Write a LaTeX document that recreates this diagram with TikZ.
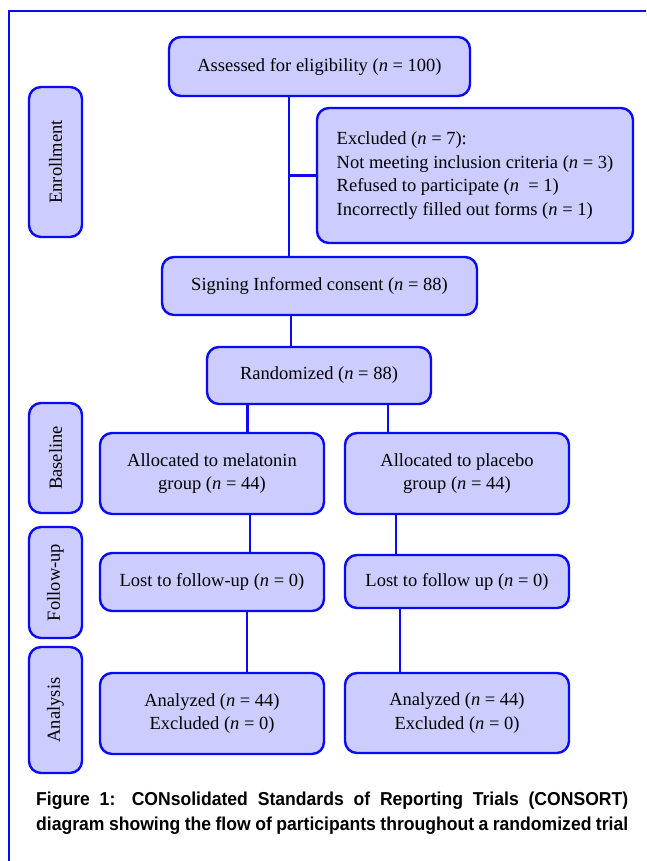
\documentclass[tikz,border=0pt]{standalone}
\usepackage{fontspec}
\setmainfont{Liberation Serif}
\newfontfamily\capfont[FakeStretch=0.94]{Liberation Sans}
\definecolor{lineblue}{RGB}{10,10,245}
\definecolor{boxfill}{RGB}{204,204,255}
\begin{document}
\begin{tikzpicture}[x=1pt,y=-1pt,
  box/.style={draw=lineblue, fill=boxfill, line width=2.4pt, rounded corners=12pt,
    inner sep=0pt, align=center, font=\fontsize{18.5}{23.7}\selectfont},
  sidebox/.style={box, rotate=90, minimum height=53pt},
  conn/.style={draw=lineblue, line width=2.4pt},
  frame/.style={draw=lineblue, line width=2pt}]
\useasboundingbox (0,0) rectangle (646,861);

% frame
\coordinate (f1) at (8,11);
\coordinate (f2) at (646,11);
\coordinate (f3) at (9,11);
\coordinate (f4) at (9,861);
\draw[frame] (f1) -- (f2);
\draw[frame] (f3) -- (f4);

% side boxes
\node[sidebox, minimum width=150pt] (enr) at (55.5,162) {Enrollment};
\node[sidebox, minimum width=110pt] (base) at (55.5,458) {Baseline};
\node[sidebox, minimum width=111pt] (fol) at (55.5,582.5) {Follow-up};
\node[sidebox, minimum width=126pt] (anas) at (55.5,710) {Analysis};

% main boxes
\node[box, minimum width=301pt, minimum height=59pt] (assess) at (319.5,66.5)
  {Assessed for eligibility (\textit{n} = 100)};
\node[box, minimum width=316pt, minimum height=135pt, align=left] (excl) at (475,175.5)
  {Excluded (\textit{n} = 7):\\
   Not meeting inclusion criteria (\textit{n} = 3)\\
   Refused to participate (\textit{n}~~= 1)\\
   Incorrectly filled out forms (\textit{n} = 1)};
\node[box, minimum width=315pt, minimum height=58pt] (sign) at (319.5,286)
  {Signing Informed consent (\textit{n} = 88)};
\node[box, minimum width=224pt, minimum height=57pt] (rand) at (319,375.5)
  {Randomized (\textit{n} = 88)};
\node[box, minimum width=224pt, minimum height=81pt] (allocM) at (212,473.5)
  {Allocated to melatonin\\group (\textit{n} = 44)};
\node[box, minimum width=224pt, minimum height=81pt] (allocP) at (457,473.5)
  {Allocated to placebo\\group (\textit{n} = 44)};
\node[box, minimum width=224pt, minimum height=58pt] (lostM) at (212,582)
  {Lost to follow-up (\textit{n} = 0)};
\node[box, minimum width=224pt, minimum height=53pt] (lostP) at (457,581.5)
  {Lost to follow up (\textit{n} = 0)};
\node[box, minimum width=224pt, minimum height=81pt] (anaM) at (212,713.5)
  {Analyzed (\textit{n} = 44)\\Excluded (\textit{n} = 0)};
\node[box, minimum width=224pt, minimum height=80pt] (anaP) at (457,713)
  {Analyzed (\textit{n} = 44)\\Excluded (\textit{n} = 0)};

% connector x positions
\coordinate (xa) at (289,0);
\coordinate (xb) at (291,0);
\coordinate (xc) at (247.5,0);
\coordinate (xd) at (388,0);
\coordinate (xe) at (250,0);
\coordinate (xf) at (396,0);
\coordinate (xg) at (247,0);
\coordinate (xh) at (400,0);

\draw[conn] (assess.south -| xa) -- (sign.north -| xa);
\draw[conn] (excl.west) -- (excl.west -| xa);
\draw[conn] (sign.south -| xb) -- (rand.north -| xb);
\draw[conn] (rand.south -| xc) -- (allocM.north -| xc);
\draw[conn] (rand.south -| xd) -- (allocP.north -| xd);
\draw[conn] (allocM.south -| xe) -- (lostM.north -| xe);
\draw[conn] (allocP.south -| xf) -- (lostP.north -| xf);
\draw[conn] (lostM.south -| xg) -- (anaM.north -| xg);
\draw[conn] (lostP.south -| xh) -- (anaP.north -| xh);

% caption
\node[anchor=north west, inner sep=0pt, align=left,
  font=\capfont\bfseries\fontsize{18.7}{24.5}\selectfont] (cap) at (36,792)
  {\makebox[592pt][s]{Figure 1: CONsolidated Standards of Reporting Trials (CONSORT)}\\
   \makebox[592pt][s]{diagram showing the flow of participants throughout a randomized trial}};
\end{tikzpicture}
\end{document}
